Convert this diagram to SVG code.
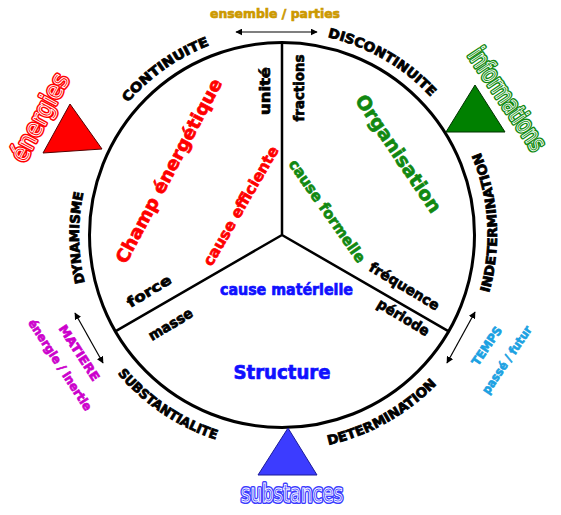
<svg xmlns="http://www.w3.org/2000/svg" width="561" height="515" viewBox="0 0 561 515">
<style>
.lab{font-family:"DejaVu Sans","Liberation Sans",sans-serif;font-weight:bold;fill:#000;stroke:#000;stroke-width:0.8}
.arc{font-size:13px;text-anchor:middle}
.in{font-family:"DejaVu Sans","Liberation Sans",sans-serif;font-weight:bold;text-anchor:middle;stroke-width:0.7}
.red{fill:#ff0000;stroke:#ff0000}
.grn{fill:#118811;stroke:#118811}
.blu{fill:#1010ff;stroke:#1010ff}
.blk{fill:#000;stroke:#000}
.gold{fill:#cc9900;stroke:#cc9900}
.mag{fill:#cc00cc;stroke:#cc00cc}
.cyan{fill:#1ba1e2;stroke:#1ba1e2}
.out{font-family:"Liberation Sans Narrow","DejaVu Sans Condensed","Arial Narrow",sans-serif;font-stretch:condensed;text-anchor:middle}
.conn{stroke:#000;stroke-width:1.2;fill:none}
</style>
<defs>
<marker id="ah" viewBox="0 0 10 10" refX="9" refY="5" markerWidth="7" markerHeight="7" markerUnits="userSpaceOnUse" orient="auto-start-reverse">
<path d="M0,0 L10,5 L0,10 z" fill="#000"/>
</marker>
<path id="cw" d="M282,438 A203,203 0 1 1 282,32 A203,203 0 1 1 282,438"/>
<path id="ccw" d="M282,20 A215,215 0 1 0 282,450 A215,215 0 1 0 282,20"/>
</defs>
<rect width="561" height="515" fill="#fff"/>

<g id="wheel">
<circle cx="282" cy="235" r="192.5" fill="none" stroke="#000" stroke-width="3"/>
<path d="M282,235 L282,42 M282,235 L115.3,331.3 M282,235 L448.7,331.3" stroke="#000" stroke-width="2.5" fill="none"/>
</g>

<g id="arc-labels">
<text class="lab arc"><textPath href="#cw" startOffset="316" textLength="91" lengthAdjust="spacingAndGlyphs">DYNAMISME</textPath></text>
<text class="lab arc"><textPath href="#cw" startOffset="513" textLength="101" lengthAdjust="spacingAndGlyphs">CONTINUITE</textPath></text>
<text class="lab arc"><textPath href="#cw" startOffset="744" textLength="121" lengthAdjust="spacingAndGlyphs">DISCONTINUITE</textPath></text>
<text class="lab arc"><textPath href="#ccw" startOffset="1026" textLength="144" lengthAdjust="spacingAndGlyphs">INDETERMINATION</textPath></text>
<text class="lab arc"><textPath href="#ccw" startOffset="785" textLength="126" lengthAdjust="spacingAndGlyphs">DETERMINATION</textPath></text>
<text class="lab arc"><textPath href="#ccw" startOffset="548" textLength="120" lengthAdjust="spacingAndGlyphs">SUBSTANTIALITE</textPath></text>
</g>

<g id="sector-champ">
<text class="in red" font-size="18" transform="translate(169,171) rotate(-62)" y="6" textLength="206" lengthAdjust="spacingAndGlyphs">Champ énergétique</text>
<text class="in red" font-size="15" transform="translate(241,206) rotate(-60)" y="5" textLength="135" lengthAdjust="spacingAndGlyphs">cause efficiente</text>
<text class="in blk" font-size="14" transform="translate(265,91) rotate(-90)" y="5" textLength="48" lengthAdjust="spacingAndGlyphs">unité</text>
<text class="in blk" font-size="14" transform="translate(149,291) rotate(-31)" y="5" textLength="49" lengthAdjust="spacingAndGlyphs">force</text>
</g>

<g id="sector-organisation">
<text class="in grn" font-size="19" transform="translate(398,154) rotate(56)" y="6" textLength="138" lengthAdjust="spacingAndGlyphs">Organisation</text>
<text class="in grn" font-size="15" transform="translate(327,211) rotate(55)" y="5" textLength="122" lengthAdjust="spacingAndGlyphs">cause formelle</text>
<text class="in blk" font-size="14" transform="translate(299,88) rotate(-90)" y="5" textLength="67" lengthAdjust="spacingAndGlyphs">fractions</text>
<text class="in blk" font-size="14" transform="translate(404,287) rotate(31)" y="4" textLength="79" lengthAdjust="spacingAndGlyphs">fréquence</text>
</g>

<g id="sector-structure">
<text class="in blu" font-size="15" x="286.5" y="295" textLength="133" lengthAdjust="spacingAndGlyphs">cause matérielle</text>
<text class="in blu" font-size="20" x="282" y="379" textLength="97" lengthAdjust="spacingAndGlyphs">Structure</text>
<text class="in blk" font-size="14" transform="translate(171,325) rotate(-31)" y="4" textLength="49" lengthAdjust="spacingAndGlyphs">masse</text>
<text class="in blk" font-size="14" transform="translate(403,318) rotate(31)" y="4" textLength="58" lengthAdjust="spacingAndGlyphs">période</text>
</g>

<g id="connectors">
<line class="conn" x1="236" y1="32" x2="317" y2="32" marker-start="url(#ah)" marker-end="url(#ah)"/>
<line class="conn" x1="75" y1="313" x2="103" y2="363" marker-start="url(#ah)" marker-end="url(#ah)"/>
<line class="conn" x1="475" y1="312" x2="447" y2="363" marker-start="url(#ah)" marker-end="url(#ah)"/>
</g>

<g id="ensemble-parties">
<text class="in gold" font-size="13" x="275" y="18" textLength="130" lengthAdjust="spacingAndGlyphs">ensemble / parties</text>
</g>

<g id="matiere">
<text class="in mag" font-size="12" transform="translate(79,353) rotate(57)" y="4" textLength="64" lengthAdjust="spacingAndGlyphs">MATIERE</text>
<text class="in mag" font-size="12" transform="translate(60,365) rotate(57)" y="4" textLength="106" lengthAdjust="spacingAndGlyphs">énergie / inertie</text>
</g>

<g id="temps">
<text class="in cyan" font-size="12" transform="translate(487,346) rotate(-56)" y="4" textLength="44" lengthAdjust="spacingAndGlyphs">TEMPS</text>
<text class="in cyan" font-size="12" transform="translate(507,360) rotate(-56)" y="4" textLength="79" lengthAdjust="spacingAndGlyphs">passé / futur</text>
</g>

<g id="energies">
<polygon points="70,104 43,153 102,149" fill="#ff0000" stroke="#550000" stroke-width="1"/>
<g transform="translate(41,118) rotate(-62)">
<text class="out" font-size="25" y="7" textLength="96" lengthAdjust="spacingAndGlyphs" fill="#ff0000" stroke="#ff0000" stroke-width="4" stroke-linejoin="round">énergies</text>
<text class="out" font-size="25" y="7" textLength="96" lengthAdjust="spacingAndGlyphs" fill="#ff0000" stroke="#ffffff" stroke-width="0.9">énergies</text>
</g>
</g>

<g id="informations">
<polygon points="475,85 446,132 505,132" fill="#008000" stroke="#003300" stroke-width="1"/>
<g transform="translate(506,100) rotate(56)">
<text class="out" font-size="25" y="7" textLength="118" lengthAdjust="spacingAndGlyphs" fill="#118811" stroke="#118811" stroke-width="4" stroke-linejoin="round">informations</text>
<text class="out" font-size="25" y="7" textLength="118" lengthAdjust="spacingAndGlyphs" fill="#118811" stroke="#ffffff" stroke-width="0.9">informations</text>
</g>
</g>

<g id="substances">
<polygon points="288,428 258,475 317,475" fill="#3c3cff" stroke="#1a1a99" stroke-width="1"/>
<text class="out" font-size="24" x="292" y="502" textLength="102" lengthAdjust="spacingAndGlyphs" fill="#3c3cff" stroke="#3c3cff" stroke-width="4" stroke-linejoin="round">substances</text>
<text class="out" font-size="24" x="292" y="502" textLength="102" lengthAdjust="spacingAndGlyphs" fill="#3c3cff" stroke="#ffffff" stroke-width="0.9">substances</text>
</g>
</svg>
